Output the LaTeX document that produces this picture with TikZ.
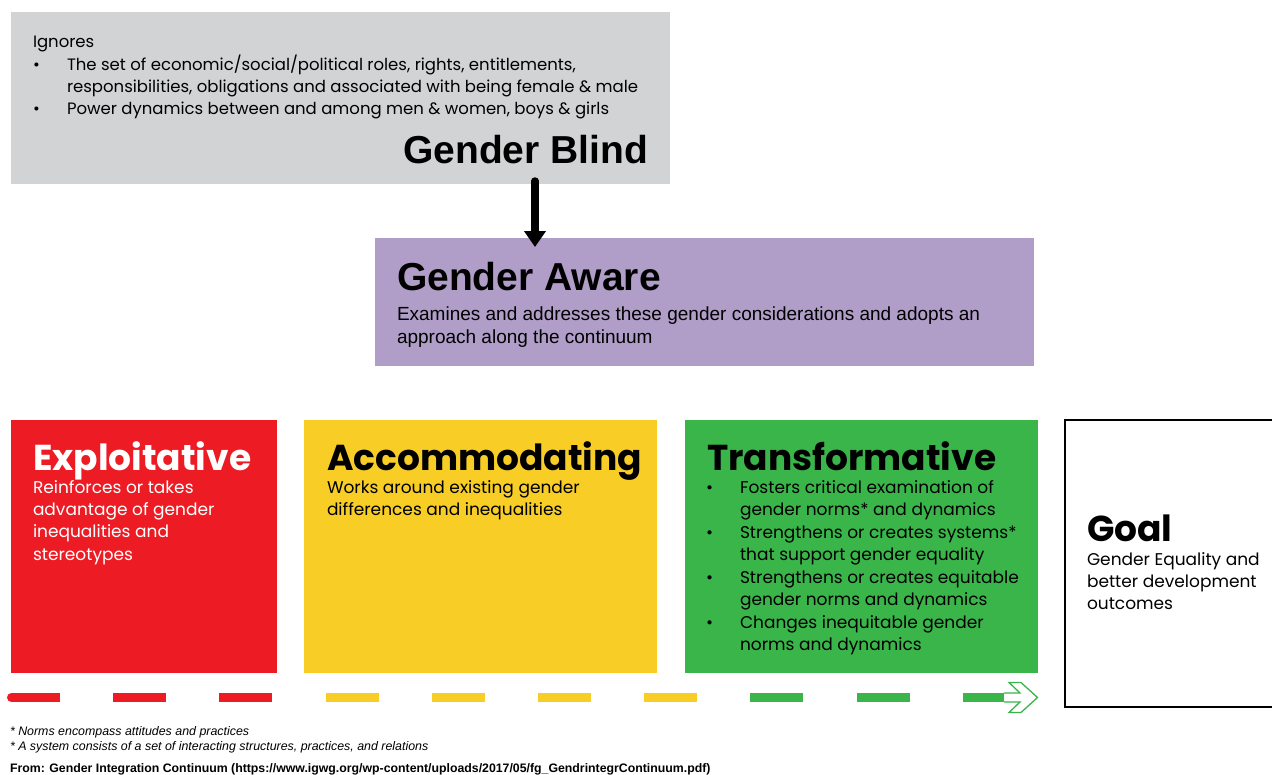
\documentclass[tikz,border=0pt]{standalone}
\usepackage{fontspec}
\setmainfont{Liberation Sans}
\newfontfamily\pop{Poppins}
\usetikzlibrary{arrows.meta,calc}
\definecolor{gbgray}{RGB}{209,211,212}
\definecolor{gapurple}{RGB}{176,158,200}
\definecolor{exred}{RGB}{237,28,36}
\definecolor{acyellow}{RGB}{248,205,38}
\definecolor{trgreen}{RGB}{58,181,74}
\tikzset{
  box/.style={rectangle, inner sep=0pt, outer sep=0pt, anchor=north west},
  txt/.style={anchor=base west, inner sep=0pt, outer sep=0pt, align=left},
  topbody/.style={txt, font=\fontsize{16.5}{22}\selectfont\pop},
  bigtitle/.style={inner sep=0pt, outer sep=0pt, font=\fontsize{39}{39}\selectfont\bfseries},
  lowtitle/.style={txt, font=\fontsize{36}{36}\selectfont\pop\bfseries},
  lowbody/.style={txt, font=\fontsize{17}{22.4}\selectfont\pop},
  note/.style={txt, font=\fontsize{12.4}{13}\selectfont\itshape},
  src/.style={txt, font=\fontsize{12.3}{13}\selectfont\bfseries},
  bigarrow/.style={line width=7.5pt, line cap=round, -{Triangle[width=21pt,length=16pt]}},
}
\newcommand{\lines}[2]{\parbox[t]{#1}{\raggedright #2}}
\begin{document}
\begin{tikzpicture}[x=1pt,y=-1pt]
\useasboundingbox (0,0) rectangle (1272,774);
\clip (0,0) rectangle (1272,774);
% Gender Blind
\node[box, fill=gbgray, minimum width=659pt, minimum height=172pt] (blind) at (11,12) {};
\node[topbody] (ignores) at (33,47) {Ignores};
\node[topbody] (ib1) at (33,70) {•};
\node[topbody] (it1) at (67,70) {\lines{620pt}{\fontsize{16.5}{22}\selectfont The set of economic/social/political roles, rights, entitlements,\\responsibilities, obligations and associated with being female \& male}};
\node[topbody] (ib2) at (33,114) {•};
\node[topbody] (it2) at (67,114) {Power dynamics between and among men \& women, boys \& girls};
\node[bigtitle, anchor=base east] (blindtitle) at (648,163) {Gender Blind};
% Gender Aware
\node[box, fill=gapurple, minimum width=659pt, minimum height=128pt] (aware) at (375,238) {};
\node[bigtitle, anchor=base west] (awaretitle) at (397,290) {Gender Aware};
\node[txt, font=\fontsize{19}{23}\selectfont] (awaretext) at (397,320) {\lines{630pt}{\fontsize{19}{23}\selectfont Examines and addresses these gender considerations and adopts an\\approach along the continuum}};
\coordinate (arrowx) at (535,0);
\draw[bigarrow] ([yshift=3pt]blind.south -| arrowx) -- ([yshift=-9pt]aware.north -| arrowx);
% Exploitative
\node[box, fill=exred, minimum width=266pt, minimum height=253pt] (expl) at (11,420) {};
\node[lowtitle, text=white] (expltitle) at (33,470) {Exploitative};
\node[lowbody, text=white] (expltext) at (33,493) {\lines{240pt}{\fontsize{17}{22.4}\selectfont Reinforces or takes\\advantage of gender\\inequalities and\\stereotypes}};
% Accommodating
\node[box, fill=acyellow, minimum width=353pt, minimum height=253pt] (acco) at (304,420) {};
\node[lowtitle] (accotitle) at (327,470) {Accommodating};
\node[lowbody] (accotext) at (327,493) {\lines{320pt}{\fontsize{17}{22.4}\selectfont Works around existing gender\\differences and inequalities}};
% Transformative
\node[box, fill=trgreen, minimum width=353pt, minimum height=253pt] (trans) at (685,420) {};
\node[lowtitle] (transtitle) at (707,470) {Transformative};
\node[lowbody] (tb1) at (706,493) {•};
\node[lowbody] (tt1) at (740,493) {\lines{295pt}{\fontsize{17}{22.4}\selectfont Fosters critical examination of\\gender norms* and dynamics}};
\node[lowbody] (tb2) at (706,538) {•};
\node[lowbody] (tt2) at (740,538) {\lines{295pt}{\fontsize{17}{22.4}\selectfont Strengthens or creates systems*\\that support gender equality}};
\node[lowbody] (tb3) at (706,583) {•};
\node[lowbody] (tt3) at (740,583) {\lines{295pt}{\fontsize{17}{22.4}\selectfont Strengthens or creates equitable\\gender norms and dynamics}};
\node[lowbody] (tb4) at (706,628) {•};
\node[lowbody] (tt4) at (740,628) {\lines{295pt}{\fontsize{17}{22.4}\selectfont Changes inequitable gender\\norms and dynamics}};
% Goal
\node[box, draw=black, line width=2.5pt, fill=white, minimum width=230pt, minimum height=287pt] (goal) at (1065,420) {};
\node[lowtitle] (goaltitle) at (1087,541) {Goal};
\node[lowbody] (goaltext) at (1087,565) {\lines{180pt}{\fontsize{17}{22.4}\selectfont Gender Equality and\\better development\\outcomes}};
% continuum dashes
\fill[exred] (11.5,697.5) circle (4.5pt);
\fill[exred] (11.5,693) rectangle (60,702);
\foreach \i/\c in {1/exred,2/exred,3/acyellow,4/acyellow,5/acyellow,6/acyellow,7/trgreen,8/trgreen}
  \fill[\c] (7+106.2*\i,693) rectangle ++(53,9);
\fill[trgreen] (963,693) rectangle (1005,702);
\draw[trgreen, line width=1.3pt, fill=white, line join=miter]
  (1004,693) -- (1020,693) -- (1009,682.5) -- (1021,682.5) -- (1037.5,697.5)
  -- (1021,712.5) -- (1009,712.5) -- (1020,702) -- (1004,702);
% notes
\node[note] (n1) at (10,735) {* Norms encompass attitudes and practices};
\node[note] (n2) at (10,750) {* A system consists of a set of interacting structures, practices, and relations};
\node[src] (from) at (10,772) {From: Gender Integration Continuum (https://www.igwg.org/wp-content/uploads/2017/05/fg\_GendrintegrContinuum.pdf)};
\end{tikzpicture}
\end{document}
